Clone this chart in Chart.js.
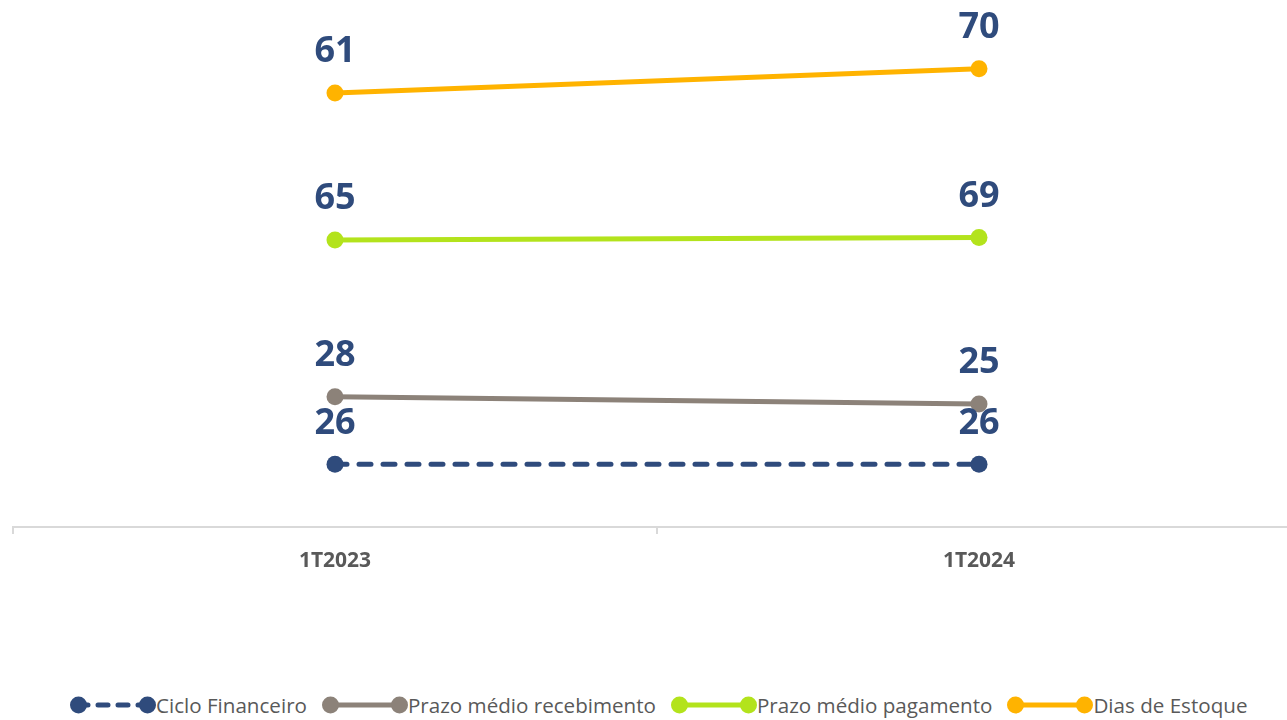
<!DOCTYPE html>
<html>
<head>
<meta charset="utf-8">
<script src="https://cdn.jsdelivr.net/npm/chart.js@4.4.1/dist/chart.umd.min.js"></script>
<style>
  body { margin: 0; background: #fff; font-family: "Open Sans", sans-serif; }
  #wrap { position: relative; width: 1287px; height: 720px; overflow: hidden; }
  #box { position: absolute; left: 0; top: 0; width: 1310px; height: 600px; }
  #legend { position: absolute; top: 691px; left: 70px; display: flex; align-items: center; font-size: 20.6px; color: #595959; white-space: nowrap; }
  #legend .item { display: flex; align-items: center; margin-right: 15px; }
  #legend svg { display: block; }
</style>
</head>
<body>
<div id="wrap">
  <div id="box"><canvas id="chart" width="1310" height="600"></canvas></div>
  <div id="legend"></div>
</div>
<script>
const categories = ['1T2023', '1T2024'];
const seriesNames = ['Ciclo Financeiro', 'Prazo médio recebimento', 'Prazo médio pagamento', 'Dias de Estoque'];
const cicloFinanceiro = [26, 26];
const prazoRecebimento = [28, 25];
const prazoPagamento = [65, 69];
const diasEstoque = [61, 70];
const colors = ['#2F4B7C', '#8C8279', '#B3E31C', '#FFB300'];
const values = [cicloFinanceiro, prazoRecebimento, prazoPagamento, diasEstoque];

// labels with the value above each point
const valueLabels = {
  id: 'valueLabels',
  afterDatasetsDraw(chart) {
    const ctx = chart.ctx;
    ctx.save();
    ctx.font = 'bold 36px "Open Sans"';
    ctx.fillStyle = '#2F4B7C';
    ctx.textAlign = 'center';
    ctx.textBaseline = 'middle';
    chart.data.datasets.forEach((ds, i) => {
      chart.getDatasetMeta(i).data.forEach((pt, j) => {
        ctx.fillText(ds.data[j], pt.x, pt.y - 41);
      });
    });
    ctx.restore();
  }
};

new Chart(document.getElementById('chart'), {
  type: 'line',
  data: {
    labels: categories,
    datasets: seriesNames.map((name, i) => ({
      label: name,
      data: values[i],
      borderColor: colors[i],
      backgroundColor: colors[i],
      borderWidth: 5,
      borderCapStyle: 'round',
      borderDash: i === 0 ? [12, 12] : [],
      pointRadius: 8.5,
      pointHoverRadius: 8.5,
      pointBorderWidth: 0,
      fill: false,
      tension: 0
    }))
  },
  options: {
    responsive: false,
    animation: false,
    layout: { padding: { left: 13, right: 9, top: 0, bottom: 0 } },
    plugins: { legend: { display: false }, tooltip: { enabled: false } },
    scales: {
      x: {
        offset: true,
        grid: { offset: true, drawOnChartArea: false, color: '#D9D9D9', lineWidth: 2, tickLength: 7 },
        border: { color: '#D9D9D9', width: 2 },
        ticks: { color: '#595959', font: { family: 'Open Sans', size: 21, weight: 'bold' }, padding: 14 },
        afterFit(s) { s.height = 73; }
      },
      y: {
        stacked: true,
        display: false,
        min: 0,
        max: 215
      }
    }
  },
  plugins: [valueLabels]
});

// legend like the spreadsheet one: line with a dot on each end
const legend = document.getElementById('legend');
seriesNames.forEach((name, i) => {
  const dash = i === 0 ? 'stroke-dasharray="10 10" stroke-linecap="round"' : '';
  legend.innerHTML += `
    <div class="item">
      <svg width="86" height="20"><line x1="8" y1="10" x2="78" y2="10" stroke="${colors[i]}" stroke-width="5" ${dash}/>
      <circle cx="8.5" cy="10" r="8.5" fill="${colors[i]}"/><circle cx="77.5" cy="10" r="8.5" fill="${colors[i]}"/></svg>
      <span>${name}</span>
    </div>`;
});
</script>
</body>
</html>
